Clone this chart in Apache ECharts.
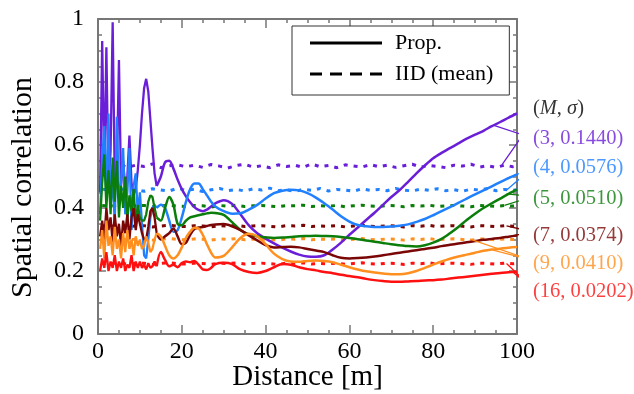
<!DOCTYPE html>
<html><head><meta charset="utf-8">
<script src="https://cdn.jsdelivr.net/npm/echarts@6/dist/echarts.min.js"></script>
<style>html,body{margin:0;padding:0;background:#fff}#c{width:634px;height:394px}</style>
</head><body><div id="c"></div>
<script>
// ---------- data ----------
const xTicks = [0, 20, 40, 60, 80, 100];
const yTicks = [0, 0.2, 0.4, 0.6, 0.8, 1];
const distNoisy = [0.5,1,1.5,2,2.5,3,3.5,4,4.5,5,5.5,6,6.5,7,7.5,8,8.5,9,9.5];
const distSmooth = [10,10.5,11,11.5,12,12.5,13,13.5,14,15,16,17,18,19,20,21,22,23,24,25,26,27,28,
  30,32,34,36,38,40,42,44,46,48,50,52,54,56,58,60,62,64,66,68,70,72,74,76,78,80,82,84,86,88,90,92,94,96,98,100];
const distIID = [1,3,5,7,9,11,13,15,17,19,21,23,25,27,29,31,33,35,37,39,41,43,45,47,49,51,53,55,57,59,61,63,65,67,69,71,73,75,77,79,81,83,85,87,89,91,93,95,97,99,100];

const legendNames = ['Prop.', 'IID (mean)'];
const curveNames = ['(3, 0.1440)', '(4, 0.0576)', '(5, 0.0510)', '(7, 0.0374)', '(9, 0.0410)', '(16, 0.0202)'];

// Prop. (M=3)
const propNoisy3 = [0.45,0.93,0.50,0.91,0.46,0.58,0.99,0.48,0.52,0.87,0.47,0.55,0.46,0.50,0.63,0.48,0.44,0.46,0.52];
const propSmooth3 = [0.60,0.70,0.78,0.81,0.77,0.68,0.59,0.51,0.47,
  0.50,0.545,0.55,0.525,0.49,0.46,0.437,0.418,0.403,0.394,0.39,0.395,0.405,0.415,
  0.425,0.413,0.38,0.345,0.32,0.303,0.288,0.274,0.262,0.252,0.246,0.245,0.25,0.268,0.29,0.315,0.338,0.362,0.385,0.41,
  0.435,0.457,0.483,0.51,0.535,0.558,0.575,0.59,0.605,0.62,0.633,0.645,0.66,0.673,0.687,0.70];
// Prop. (M=4)
const propNoisy4 = [0.38,0.55,0.66,0.42,0.70,0.40,0.50,0.35,0.69,0.42,0.48,0.59,0.38,0.45,0.59,0.33,0.47,0.51,0.38];
const propSmooth4 = [0.45,0.35,0.25,0.24,0.30,0.37,0.40,0.41,0.40,
  0.41,0.40,0.36,0.325,0.33,0.37,0.42,0.46,0.478,0.478,0.46,0.44,0.42,0.405,
  0.39,0.382,0.383,0.395,0.41,0.43,0.447,0.455,0.458,0.456,0.447,0.433,0.415,0.395,0.374,0.357,0.346,0.342,0.34,0.34,
  0.341,0.344,0.348,0.356,0.365,0.377,0.39,0.403,0.416,0.43,0.443,0.456,0.469,0.482,0.495,0.507];
// Prop. (M=5)
const propNoisy5 = [0.36,0.48,0.57,0.40,0.52,0.38,0.56,0.42,0.55,0.37,0.47,0.40,0.50,0.36,0.44,0.39,0.46,0.35,0.41];
const propSmooth5 = [0.37,0.36,0.36,0.38,0.42,0.44,0.435,0.40,0.37,
  0.36,0.40,0.435,0.41,0.35,0.345,0.36,0.37,0.374,0.377,0.38,0.383,0.385,0.384,
  0.378,0.355,0.33,0.316,0.31,0.307,0.305,0.306,0.308,0.31,0.311,0.312,0.311,0.31,0.308,0.305,0.301,0.297,0.293,0.289,
  0.285,0.282,0.279,0.278,0.282,0.29,0.302,0.32,0.34,0.362,0.382,0.40,0.415,0.43,0.445,0.458];
// Prop. (M=7)
const propNoisy7 = [0.31,0.36,0.30,0.40,0.33,0.37,0.29,0.38,0.31,0.35,0.28,0.36,0.32,0.38,0.30,0.37,0.40,0.33,0.38];
const propSmooth7 = [0.35,0.32,0.30,0.30,0.34,0.39,0.40,0.37,0.32,
  0.30,0.31,0.32,0.335,0.31,0.285,0.29,0.315,0.333,0.338,0.34,0.343,0.346,0.348,
  0.349,0.342,0.33,0.313,0.297,0.282,0.275,0.276,0.277,0.275,0.27,0.265,0.26,0.25,0.242,0.24,0.241,0.243,0.246,0.25,
  0.254,0.258,0.262,0.266,0.27,0.274,0.279,0.283,0.287,0.291,0.295,0.299,0.302,0.305,0.309,0.313];
// Prop. (M=9)
const propNoisy9 = [0.27,0.33,0.24,0.36,0.28,0.31,0.25,0.34,0.27,0.30,0.24,0.32,0.26,0.33,0.27,0.30,0.25,0.31,0.28];
const propSmooth9 = [0.30,0.27,0.28,0.31,0.29,0.26,0.27,0.30,0.32,
  0.31,0.28,0.25,0.24,0.25,0.275,0.305,0.325,0.337,0.335,0.315,0.285,0.258,0.243,
  0.248,0.275,0.305,0.318,0.31,0.285,0.255,0.238,0.23,0.229,0.232,0.233,0.232,0.228,0.22,0.212,0.205,0.199,0.195,0.192,
  0.19,0.19,0.193,0.20,0.21,0.22,0.23,0.239,0.246,0.252,0.258,0.264,0.268,0.271,0.274,0.276];
// Prop. (M=16)
const propNoisy16 = [0.20,0.24,0.21,0.26,0.20,0.23,0.21,0.25,0.20,0.23,0.21,0.24,0.20,0.22,0.21,0.25,0.20,0.23,0.21];
const propSmooth16 = [0.23,0.21,0.22,0.205,0.225,0.21,0.215,0.23,0.215,
  0.26,0.235,0.215,0.22,0.212,0.225,0.23,0.228,0.232,0.22,0.205,0.203,0.21,0.222,
  0.226,0.222,0.205,0.197,0.194,0.20,0.212,0.222,0.22,0.212,0.206,0.202,0.197,0.193,0.188,0.184,0.18,0.175,0.171,0.168,
  0.166,0.166,0.167,0.168,0.17,0.171,0.173,0.176,0.179,0.182,0.185,0.188,0.191,0.194,0.196,0.198];

// IID (mean)
const iid3 = [0.535,0.530,0.538,0.529,0.536,0.532,0.540,0.528,0.534,0.537,
  0.531,0.536,0.529,0.538,0.533,0.527,0.535,0.539,0.530,0.534,
  0.528,0.537,0.532,0.536,0.529,0.540,0.531,0.535,0.528,0.537,
  0.533,0.530,0.538,0.531,0.536,0.529,0.534,0.539,0.530,0.535,
  0.532,0.528,0.536,0.533,0.539,0.530,0.534,0.529,0.536,0.531,0.533];
const iid4 = [0.460,0.455,0.462,0.456,0.459,0.453,0.461,0.457,0.454,0.463,
  0.456,0.460,0.452,0.458,0.462,0.455,0.459,0.454,0.461,0.457,
  0.463,0.455,0.458,0.452,0.460,0.456,0.462,0.454,0.459,0.457,
  0.453,0.461,0.456,0.459,0.455,0.462,0.457,0.454,0.460,0.456,
  0.461,0.455,0.458,0.453,0.460,0.457,0.462,0.455,0.459,0.456,0.458];
const iid5 = [0.408,0.406,0.409,0.405,0.407,0.408,0.404,0.407,0.409,0.406,
  0.405,0.408,0.407,0.403,0.408,0.406,0.409,0.405,0.407,0.408,
  0.406,0.404,0.408,0.407,0.409,0.405,0.407,0.406,0.408,0.404,
  0.407,0.409,0.406,0.405,0.408,0.407,0.404,0.408,0.406,0.409,
  0.405,0.407,0.408,0.406,0.404,0.408,0.407,0.405,0.408,0.406,0.407];
const iid7 = [0.344,0.342,0.345,0.341,0.343,0.344,0.340,0.343,0.345,0.342,
  0.341,0.344,0.343,0.340,0.344,0.342,0.345,0.341,0.343,0.344,
  0.342,0.340,0.344,0.343,0.345,0.341,0.343,0.342,0.344,0.340,
  0.343,0.345,0.342,0.341,0.344,0.343,0.340,0.344,0.342,0.345,
  0.341,0.343,0.344,0.342,0.340,0.344,0.343,0.341,0.344,0.342,0.343];
const iid9 = [0.302,0.300,0.303,0.299,0.301,0.302,0.298,0.301,0.303,0.300,
  0.299,0.302,0.301,0.298,0.302,0.300,0.303,0.299,0.301,0.302,
  0.300,0.298,0.302,0.301,0.303,0.299,0.301,0.300,0.302,0.298,
  0.301,0.303,0.300,0.299,0.302,0.301,0.298,0.302,0.300,0.303,
  0.299,0.301,0.302,0.300,0.298,0.302,0.301,0.299,0.302,0.300,0.301];
const iid16 = [0.225,0.223,0.226,0.222,0.224,0.225,0.221,0.224,0.226,0.223,
  0.222,0.225,0.224,0.221,0.225,0.223,0.226,0.222,0.224,0.225,
  0.223,0.221,0.225,0.224,0.226,0.222,0.224,0.223,0.225,0.221,
  0.224,0.226,0.223,0.222,0.225,0.224,0.221,0.225,0.223,0.226,
  0.222,0.224,0.225,0.223,0.221,0.225,0.224,0.222,0.225,0.223,0.224];

// ---------- styles / annotation layout ----------
const FONT = '"Liberation Serif","Times New Roman",serif';
const COLORS = ['#6a1ed8', '#2080ff', '#0b7d0b', '#7a0606', '#ff9020', '#ff1010'];
const AXIS_COLOR = '#777';
const curves = [
  {noisy: propNoisy3, smooth: propSmooth3, iid: iid3},
  {noisy: propNoisy4, smooth: propSmooth4, iid: iid4},
  {noisy: propNoisy5, smooth: propSmooth5, iid: iid5},
  {noisy: propNoisy7, smooth: propSmooth7, iid: iid7},
  {noisy: propNoisy9, smooth: propSmooth9, iid: iid9},
  {noisy: propNoisy16, smooth: propSmooth16, iid: iid16}
];
// pointer lines (in data units): [solid end, tip, dotted end]
const pointers = [
  [[94.3, 0.663], [101.4, 0.632], [96.4, 0.537]],
  [[97.6, 0.494], [103.5, 0.525], [97.6, 0.458]],
  [[97.5, 0.445], [103.6, 0.436], [97.0, 0.408]],
  [[98.5, 0.310], [103.6, 0.325], [97.5, 0.343]],
  [[94.3, 0.266], [103.4, 0.235], [88.8, 0.301]],
  [[99.0, 0.197], [103.6, 0.146], [97.5, 0.224]]
];
const labelAnchors = [0.632, 0.540, 0.441, 0.324, 0.235, 0.146];

const zip = (xs, ys) => xs.map((x, i) => [x, ys[i]]);
const series = [];
curves.forEach((c, k) => {
  series.push({
    type: 'line', data: zip(distIID, c.iid), symbol: 'none', silent: true, z: 3,
    lineStyle: {color: COLORS[k], width: 3, type: [4, 6]}
  });
});
curves.forEach((c, k) => {
  const nx = distNoisy.concat(distSmooth.slice(0, 9));
  const ny = c.noisy.concat(c.smooth.slice(0, 9));
  series.push({
    type: 'line', data: zip(nx, ny), symbol: 'none', silent: true, z: 4,
    lineStyle: {color: COLORS[k], width: 2.3}
  });
  series.push({
    type: 'line', data: zip(distSmooth.slice(8), c.smooth.slice(8)), symbol: 'none', smooth: 0.3, silent: true, z: 4,
    lineStyle: {color: COLORS[k], width: 2.5}
  });
  series.push({
    type: 'line', data: pointers[k], symbol: 'none', clip: false, silent: true, z: 5,
    lineStyle: {color: COLORS[k], width: 1.3}
  });
});
const LABEL_FS = 20.5;
series.push({
  type: 'scatter', clip: false, silent: true, symbolSize: 0, z: 6,
  data: curveNames.map((n, k) => ({
    value: [103.8, labelAnchors[k]],
    label: {show: true, position: 'right', distance: 0, offset: [0, 4], formatter: n, color: COLORS[k],
      fontFamily: FONT, fontSize: LABEL_FS}
  })).concat([{
    value: [103.8, 0.727],
    label: {show: true, position: 'right', distance: 0, offset: [0, 4], formatter: '({i|M}, {i|σ})', color: '#000',
      fontFamily: FONT, fontSize: LABEL_FS,
      rich: {i: {fontFamily: FONT, fontSize: LABEL_FS, fontStyle: 'italic', color: '#000'}}}
  }])
});
series.push({name: legendNames[0], type: 'line', data: [], symbol: 'none', color: '#000', lineStyle: {color: '#000', width: 3}});
series.push({name: legendNames[1], type: 'line', data: [], symbol: 'none', color: '#000', lineStyle: {color: '#000', width: 3, type: [12, 8]}});

const axisCommon = {
  axisLine: {show: true, onZero: false, lineStyle: {color: AXIS_COLOR, width: 2}},
  axisTick: {show: true, inside: true, lineStyle: {color: AXIS_COLOR, width: 1.5}},
  minorTick: {show: true, splitNumber: 4, lineStyle: {color: AXIS_COLOR, width: 1.5}},
  splitLine: {show: false}, minorSplitLine: {show: false}
};
const xBase = Object.assign({type: 'value', min: xTicks[0], max: xTicks[xTicks.length - 1], interval: 20}, axisCommon);
const yBase = Object.assign({type: 'value', min: yTicks[0], max: yTicks[yTicks.length - 1], interval: 0.2}, axisCommon);

const option = {
  backgroundColor: '#fff',
  animation: false,
  grid: {left: 98, right: 117, top: 19, bottom: 60, containLabel: false, outerBoundsMode: 'none'},
  legend: {
    data: [
      {name: legendNames[0], icon: 'path://M0,0H72V3H0Z'},
      {name: legendNames[1], icon: 'path://M0,0H12V3H0Z M20,0H32V3H20Z M40,0H52V3H40Z M60,0H72V3H60Z'}
    ],
    orient: 'vertical', left: 292, top: 26,
    padding: [4, 16, 8, 18], itemWidth: 72, itemHeight: 3, itemGap: 5,
    borderColor: '#333', borderWidth: 1, backgroundColor: '#fff',
    itemStyle: {color: '#000', borderWidth: 0},
    textStyle: {fontFamily: FONT, fontSize: 22, color: '#000', lineHeight: 26, padding: [0, 0, 0, 8]},
    selectedMode: false
  },
  xAxis: [
    Object.assign({}, xBase, {
      position: 'bottom',
      axisTick: Object.assign({}, axisCommon.axisTick, {length: 9}),
      minorTick: Object.assign({}, axisCommon.minorTick, {length: 4}),
      axisLabel: {fontFamily: FONT, fontSize: 24, color: '#000', margin: 6,
        formatter: v => String(xTicks.find(t => Math.abs(t - v) < 1e-9) ?? v)},
      name: 'Distance [m]', nameLocation: 'middle', nameGap: 29, nameMoveOverlap: false,
      nameTextStyle: {fontFamily: FONT, fontSize: 29, color: '#000'}
    }),
    Object.assign({}, xBase, {
      position: 'top',
      axisTick: Object.assign({}, axisCommon.axisTick, {length: 9}),
      minorTick: Object.assign({}, axisCommon.minorTick, {length: 4}),
      axisLabel: {show: false}
    })
  ],
  yAxis: [
    Object.assign({}, yBase, {
      position: 'left',
      axisTick: Object.assign({}, axisCommon.axisTick, {length: 8}),
      minorTick: Object.assign({}, axisCommon.minorTick, {length: 4}),
      axisLabel: {fontFamily: FONT, fontSize: 24, color: '#000', margin: 14,
        formatter: v => String(yTicks.find(t => Math.abs(t - v) < 1e-9) ?? v)},
      name: 'Spatial correlation', nameLocation: 'middle', nameGap: 60, nameMoveOverlap: false,
      nameTextStyle: {fontFamily: FONT, fontSize: 30, color: '#000', padding: [0, 22, 0, 0]}
    }),
    Object.assign({}, yBase, {
      position: 'right',
      axisTick: Object.assign({}, axisCommon.axisTick, {length: 8}),
      minorTick: Object.assign({}, axisCommon.minorTick, {length: 4}),
      axisLabel: {show: false}
    })
  ],
  series: series
};
const chart = echarts.init(document.getElementById('c'), null, {renderer: 'canvas'});
chart.setOption(option);
</script>
</body></html>
